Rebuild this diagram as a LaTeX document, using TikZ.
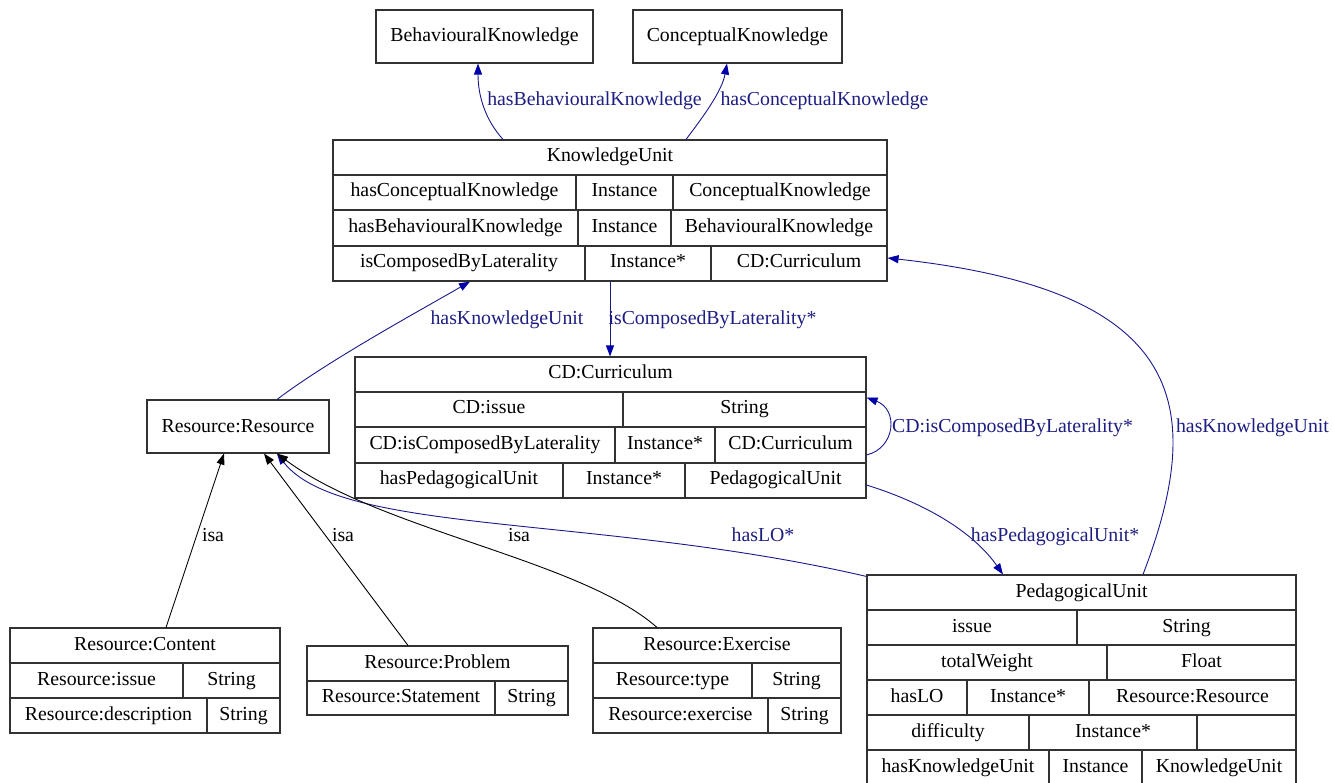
\documentclass[tikz,border=0pt]{standalone}
\usepackage{fontspec}
\setmainfont{Liberation Serif}
\usetikzlibrary{arrows.meta,calc}

\definecolor{relblue}{RGB}{25,25,140}
\definecolor{tipblue}{RGB}{0,0,170}
\definecolor{lblblue}{RGB}{30,30,130}
\definecolor{boxgray}{RGB}{50,50,50}

\tikzset{
  box/.style={draw=boxgray, line width=1.1pt, rectangle, inner sep=0pt},
  txt/.style={inner sep=0pt, text height=14pt, text depth=5pt},
  lbl/.style={txt, text=lblblue},
  rel/.style={draw=relblue, line width=0.9pt, -{Triangle[length=11pt,width=8pt,color=tipblue]}},
  isa/.style={draw=black, line width=0.9pt, -{Triangle[length=11pt,width=8pt]}},
}

% one row of a record: name, top, bottom, list of left/right/text
\newcommand{\cellrow}[4]{%
  \foreach \xa/\xb/\txt in {#4} {
    \draw[boxgray, line width=1.1pt] (\xa,#2) rectangle (\xb,#3);
    \node[txt] (#1-\xa) at ({(\xa+\xb)/2},{(#2+#3)/2}) {\txt};
  }}

\begin{document}
\begin{tikzpicture}[x=1pt,y=-1pt,font=\fontsize{19.8pt}{24pt}\selectfont]
    \fill[white] (0,0) rectangle (1334,783);
    \useasboundingbox (0,0) rectangle (1334,783);

    % plain classes
    \node[box, minimum width=217, minimum height=53] (behav) at (484.5,36.5) {BehaviouralKnowledge};
    \node[box, minimum width=209, minimum height=53] (concept) at (737.5,36.5) {ConceptualKnowledge};
    \node[box, minimum width=182, minimum height=53] (res) at (238,426.5) {Resource:Resource};

    % KnowledgeUnit
    \node[box, minimum width=554, minimum height=141] (ku) at (610,210.5) {};
    \cellrow{kuh}{140}{175}{333/887/KnowledgeUnit}
    \cellrow{ku1}{175}{210}{333/576/hasConceptualKnowledge, 576/673/Instance, 673/887/ConceptualKnowledge}
    \cellrow{ku2}{210}{246}{333/578/hasBehaviouralKnowledge, 578/671/Instance, 671/887/BehaviouralKnowledge}
    \cellrow{ku3}{246}{281}{333/585/isComposedByLaterality, 585/711/Instance*, 711/887/CD:Curriculum}

    % CD:Curriculum
    \node[box, minimum width=511, minimum height=141] (cd) at (610.5,427.5) {};
    \cellrow{cdh}{357}{392}{355/866/CD:Curriculum}
    \cellrow{cd1}{392}{427}{355/623/CD:issue, 623/866/String}
    \cellrow{cd2}{427}{463}{355/615/CD:isComposedByLaterality, 615/715/Instance*, 715/866/CD:Curriculum}
    \cellrow{cd3}{463}{498}{355/563/hasPedagogicalUnit, 563/685/Instance*, 685/866/PedagogicalUnit}

    % PedagogicalUnit
    \node[box, minimum width=429, minimum height=210] (pu) at (1081.5,680) {};
    \cellrow{puh}{575}{610}{867/1296/PedagogicalUnit}
    \cellrow{pu1}{610}{645}{867/1077/issue, 1077/1296/String}
    \cellrow{pu2}{645}{680}{867/1107/totalWeight, 1107/1296/Float}
    \cellrow{pu3}{680}{715}{867/967/hasLO, 967/1089/Instance*, 1089/1296/Resource:Resource}
    \cellrow{pu4}{715}{750}{867/1029/difficulty, 1029/1197/Instance*, 1197/1296/{}}
    \cellrow{pu5}{750}{785}{867/1049/hasKnowledgeUnit, 1049/1142/Instance, 1142/1296/KnowledgeUnit}

    % resource subclasses
    \node[box, minimum width=270, minimum height=105] (content) at (145,680.5) {};
    \cellrow{coh}{628}{663}{10/280/Resource:Content}
    \cellrow{co1}{663}{698}{10/183/Resource:issue, 183/280/String}
    \cellrow{co2}{698}{733}{10/207/Resource:description, 207/280/String}

    \node[box, minimum width=261, minimum height=69] (problem) at (437.5,680.5) {};
    \cellrow{prh}{646}{681}{307/568/Resource:Problem}
    \cellrow{pr1}{681}{715}{307/495/Resource:Statement, 495/568/String}

    \node[box, minimum width=248, minimum height=105] (exercise) at (717,680.5) {};
    \cellrow{exh}{628}{663}{593/841/Resource:Exercise}
    \cellrow{ex1}{663}{698}{593/752/Resource:type, 752/841/String}
    \cellrow{ex2}{698}{733}{593/768/Resource:exercise, 768/841/String}

    % properties
    \draw[rel] ([xshift=-107]ku.north) .. controls +(-18,-20) and +(0,32) .. ([xshift=-6.5]behav.south);
    \draw[rel] ([xshift=76]ku.north) .. controls +(19,-25) and +(-5,27) .. ([xshift=-10.5]concept.south);
    \draw[rel] (ku.south) -- (ku.south |- cd.north);
    \draw[rel] ([xshift=39]res.north) .. controls +(53,-40) and +(-50,29) .. ([xshift=-140]ku.south);
    \draw[rel] ([yshift=-27.5]cd.east) .. controls +(29,-7) and +(32,12) .. ([yshift=30]cd.east);
    \draw[rel] ([yshift=-57.5]cd.east) .. controls +(64,20) and +(-28,-40) .. ([xshift=-78.5]pu.north);
    \draw[rel] ([xshift=61.5]pu.north) .. controls +(67,-175) and +(292,32) .. ([yshift=-47.5]ku.east);
    \draw[rel] ([yshift=-2]pu.north west) .. controls +(-267,-62) and +(63,82) .. ([xshift=39]res.south);

    % subclasses
    \draw[isa] ([xshift=21]content.north) -- ([xshift=-14]res.south);
    \draw[isa] ([xshift=-29.5]problem.north) -- ([xshift=26]res.south);
    \draw[isa] ([xshift=-60]exercise.north) .. controls +(-77,-68) and +(103,77) .. ([xshift=39]res.south);

    % edge labels
    \node[lbl] (lbBehav) at (594.5,101) {hasBehaviouralKnowledge};
    \node[lbl] (lbConcept) at (824.5,101) {hasConceptualKnowledge};
    \node[lbl] (lbKuRes) at (507,320) {hasKnowledgeUnit};
    \node[lbl] (lbLat) at (712.5,320) {isComposedByLaterality*};
    \node[lbl] (lbSelf) at (1012.5,428) {CD:isComposedByLaterality*};
    \node[lbl] (lbKuPed) at (1252.5,428) {hasKnowledgeUnit};
    \node[lbl] (lbPed) at (1055,537) {hasPedagogicalUnit*};
    \node[lbl] (lbLO) at (763,537) {hasLO*};
    \node[txt] (isaA) at (213,537) {isa};
    \node[txt] (isaB) at (343,537) {isa};
    \node[txt] (isaC) at (519,537) {isa};
\end{tikzpicture}
\end{document}
